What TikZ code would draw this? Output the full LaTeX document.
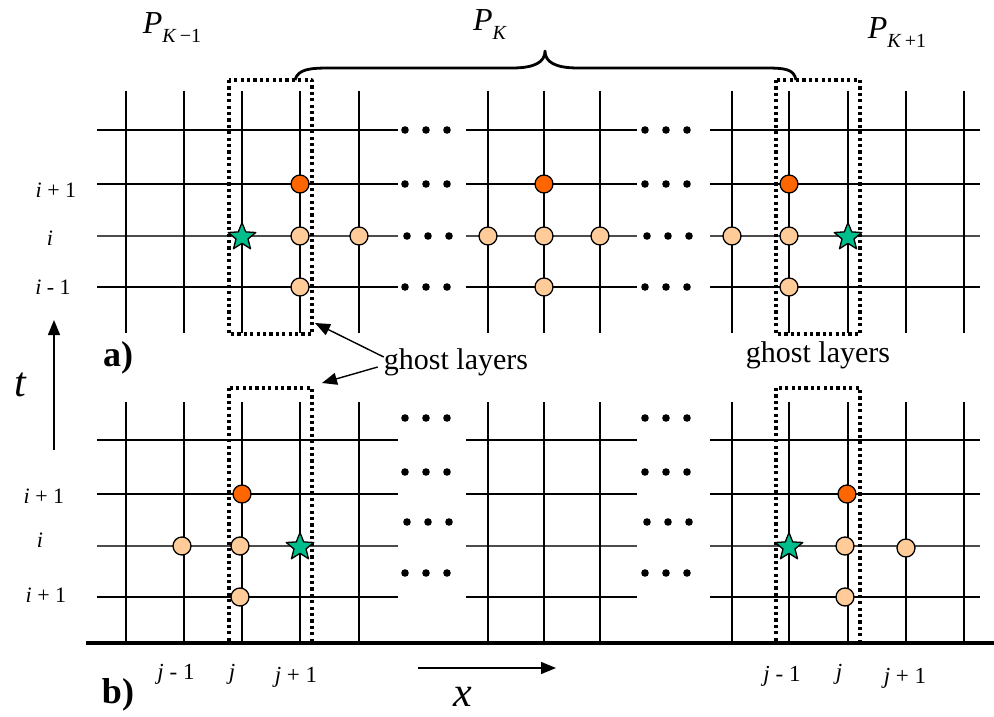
\documentclass[tikz,border=0pt]{standalone}
\usepackage{fontspec}
\setmainfont{Liberation Serif}
\usetikzlibrary{shapes.geometric,arrows.meta}

\begin{document}
\begin{tikzpicture}[x=1pt, y=-1pt, line cap=butt, line join=round,
  gridline/.style={line width=2.8pt},
  iline/.style={line width=1.6pt, black!70},
  ghostbox/.style={line width=3.8pt, dash pattern=on 3.2pt off 3.2pt},
  hotpt/.style={circle, draw, line width=1.3pt, fill=hotnode, minimum size=18pt, inner sep=0pt},
  oldpt/.style={circle, draw, line width=1.3pt, fill=oldnode, minimum size=18pt, inner sep=0pt},
  newpt/.style={star, star points=5, star point ratio=2.3, draw, line width=1.3pt, fill=starnode, minimum size=29pt, inner sep=0pt},
  rowlab/.style={font=\fontsize{22}{22}\selectfont, inner sep=0pt},
  collab/.style={font=\fontsize{23}{23}\selectfont, inner sep=0pt},
  plab/.style={inner sep=0pt},
  panlab/.style={font=\fontsize{36}{36}\selectfont\bfseries, inner sep=0pt},
  arr/.style={line width=1.4pt, -{Triangle[length=15pt,width=12pt]}}]

% Colors
\definecolor{hotnode}{RGB}{255,102,0}
\definecolor{oldnode}{RGB}{255,204,153}
\definecolor{starnode}{RGB}{0,190,140}

\useasboundingbox (0,0) rectangle (994,717);

% Processor labels
\node[plab] (pkm) at (172,28) {\fontsize{32}{32}\selectfont\textit{P}\raisebox{-9pt}{\fontsize{20}{20}\selectfont\textit{K}\,−1}};
\node[plab] (pk) at (490,25) {\fontsize{32}{32}\selectfont\textit{P}\raisebox{-9pt}{\fontsize{20}{20}\selectfont\textit{K}}};
\node[plab] (pkp) at (897,33) {\fontsize{32}{32}\selectfont\textit{P}\raisebox{-9pt}{\fontsize{20}{20}\selectfont\textit{K}\,+1}};

% Brace over P_K
\draw[line width=2.8pt] (295,80) .. controls (298,69) and (310,68) .. (330,68) -- (512,68)
  .. controls (535,68) and (545,62) .. (545,51) .. controls (545,62) and (555,68) .. (578,68)
  -- (765,68) .. controls (785,68) and (794,69) .. (796,80);

% a) grid
\foreach \yy in {130,184,287} {
  \draw[gridline] (97,\yy) -- (398,\yy);
  \draw[gridline] (466,\yy) -- (637,\yy);
  \draw[gridline] (710,\yy) -- (980,\yy);
}
\draw[iline] (97,236) -- (398,236);
\draw[iline] (466,236) -- (637,236);
\draw[iline] (710,236) -- (980,236);
\foreach \xx in {126,184,242,300,359,488,544,600,732,789,848,906,964}
  \draw[gridline] (\xx,91) -- (\xx,333);
\foreach \yy/\dx in {130/0,184/0,236/2,287/0} {
  \foreach \xx in {405,426,447,645,666,687}
    \fill (\xx+\dx,\yy) circle (3.8);
}

% b) grid
\foreach \yy in {440,494,597} {
  \draw[gridline] (97,\yy) -- (398,\yy);
  \draw[gridline] (466,\yy) -- (637,\yy);
  \draw[gridline] (710,\yy) -- (980,\yy);
}
\draw[iline] (97,546) -- (398,546);
\draw[iline] (466,546) -- (637,546);
\draw[iline] (710,546) -- (980,546);
\foreach \xx in {126,184,242,300,359,488,544,600,732,789,848,906,964}
  \draw[gridline] (\xx,402) -- (\xx,643);
\foreach \yy/\dx in {418/0,472/0,522/2,573/0} {
  \foreach \xx in {405,426,447,645,666,687}
    \fill (\xx+\dx,\yy) circle (3.8);
}
\draw[line width=3.8pt] (86,643) -- (994,643);

% Ghost layer boxes
\draw[ghostbox] (229,80) rectangle (312,334);
\draw[ghostbox] (776,80) rectangle (860,334);
\draw[ghostbox] (229,388) rectangle (312,643);
\draw[ghostbox] (776,388) rectangle (860,643);

% a) stencil points
\node[hotpt] (a1) at (300,184) {};
\node[oldpt] (a2) at (300,236) {};
\node[oldpt] (a3) at (359,236) {};
\node[oldpt] (a4) at (300,287) {};
\node[newpt] (a5) at (242,237) {};
\node[hotpt] (a6) at (544,184) {};
\node[oldpt] (a7) at (488,236) {};
\node[oldpt] (a8) at (544,236) {};
\node[oldpt] (a9) at (600,236) {};
\node[oldpt] (a10) at (544,287) {};
\node[hotpt] (a11) at (789,184) {};
\node[oldpt] (a12) at (732,236) {};
\node[oldpt] (a13) at (789,236) {};
\node[oldpt] (a14) at (789,287) {};
\node[newpt] (a15) at (848,237) {};

% b) stencil points
\node[hotpt] (b1) at (242,494) {};
\node[oldpt] (b2) at (182,546) {};
\node[oldpt] (b3) at (240,546) {};
\node[oldpt] (b4) at (240,597) {};
\node[newpt] (b5) at (300,547) {};
\node[hotpt] (b6) at (847,494) {};
\node[oldpt] (b7) at (845,546) {};
\node[oldpt] (b8) at (906,548) {};
\node[oldpt] (b9) at (845,597) {};
\node[newpt] (b10) at (789,547) {};

% Row labels
\node[rowlab] (ra1) at (56,190) {\textit{i} + 1};
\node[rowlab] (ra2) at (50,238) {\textit{i}};
\node[rowlab] (ra3) at (53,287) {\textit{i} - 1};
\node[rowlab] (rb1) at (44,496) {\textit{i} + 1};
\node[rowlab] (rb2) at (40,540) {\textit{i}};
\node[rowlab] (rb3) at (46,595) {\textit{i} + 1};

% Column labels
\node[collab] (c1) at (176,674) {\textit{j} - 1};
\node[collab] (c2) at (232,674) {\textit{j}};
\node[collab] (c3) at (296,677) {\textit{j} + 1};
\node[collab] (c4) at (782,676) {\textit{j} - 1};
\node[collab] (c5) at (839,674) {\textit{j}};
\node[collab] (c6) at (905,678) {\textit{j} + 1};

% Panel labels
\node[panlab] (pa) at (118,358) {a)};
\node[panlab] (pb) at (118,695) {b)};

% Ghost layer labels
\node[font=\fontsize{30}{30}\selectfont, inner sep=0pt] (gl1) at (456,362) {ghost layers};
\node[font=\fontsize{30}{30}\selectfont, inner sep=0pt] (gl2) at (818,355) {ghost layers};
\coordinate (tipa) at (315,323);
\coordinate (tipb) at (322,383);
\draw[arr] ([yshift=5pt]gl1.west) -- (tipa);
\draw[arr] ([xshift=-6pt,yshift=-5pt]gl1.west) -- (tipb);

% Axes
\coordinate (tlow) at (54,450);
\coordinate (thigh) at (54,320);
\draw[arr] (tlow) -- (thigh);
\node[font=\fontsize{42}{42}\selectfont\itshape] (tl) at (20,385) {t};
\coordinate (xleft) at (418,668);
\coordinate (xright) at (556,668);
\draw[arr] (xleft) -- (xright);
\node[font=\fontsize{42}{42}\selectfont\itshape] (xl) at (463,697) {x};
\end{tikzpicture}
\end{document}
